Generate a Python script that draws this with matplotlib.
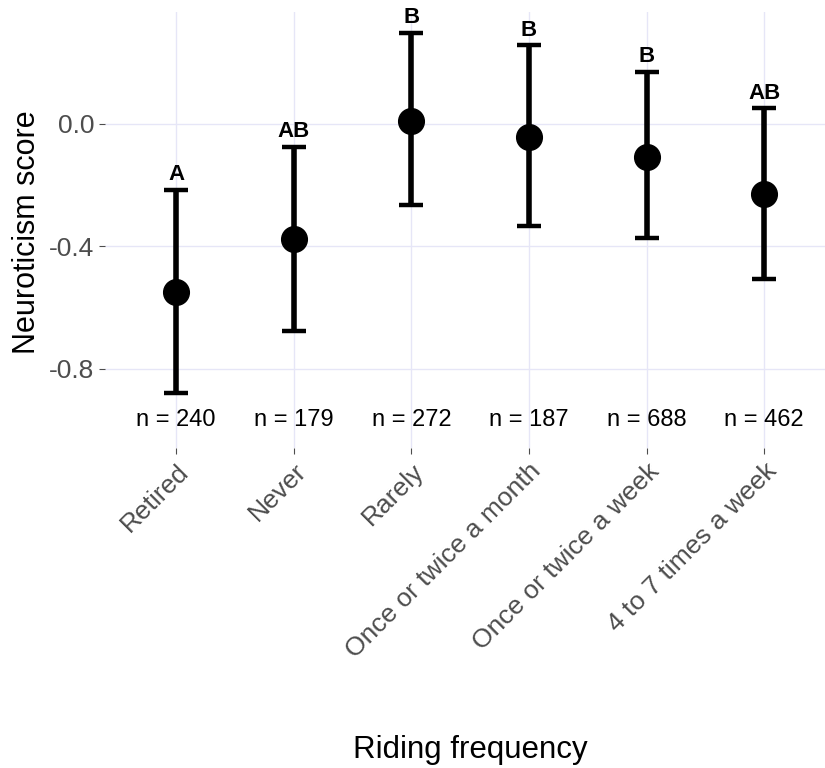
import numpy as np
import matplotlib
matplotlib.use('Agg')
import matplotlib.pyplot as plt
import matplotlib.transforms as mtransforms

plt.rcParams['font.family'] = ['Liberation Sans', 'DejaVu Sans']

# data
groups = ['Retired', 'Never', 'Rarely', 'Once or twice a month',
          'Once or twice a week', '4 to 7 times a week']
means = [-0.549, -0.376, 0.009, -0.042, -0.108, -0.230]
upper = [-0.216, -0.075, 0.298, 0.256, 0.169, 0.051]
lower = [-0.878, -0.675, -0.264, -0.335, -0.374, -0.505]
letters = ['A', 'AB', 'B', 'B', 'B', 'AB']
counts = [240, 179, 272, 187, 688, 462]

x = np.arange(1, len(groups) + 1)
means = np.array(means)
upper = np.array(upper)
lower = np.array(lower)

fig = plt.figure(figsize=(8.25, 7.68), dpi=100)
ax = fig.add_axes([0.1278, 0.4167, 1.012 - 0.1278, 0.984 - 0.4167])

grid_col = '#E6E6F7'
for yv in [0.0, -0.4, -0.8]:
    ax.axhline(yv, color=grid_col, lw=1.0, zorder=0)
for xv in x:
    ax.axvline(xv, color=grid_col, lw=1.0, zorder=0)

ax.errorbar(x, means, yerr=[means - lower, upper - means], fmt='o',
            color='black', ecolor='black', elinewidth=4, capsize=8.5,
            capthick=3.2, markersize=18.5, zorder=3)

for xi, u, lab in zip(x, upper, letters):
    ax.text(xi, u + 0.015, lab, ha='center', va='bottom', fontsize=16,
            fontweight='bold', color='black', zorder=4)

for xi, n in zip(x, counts):
    ax.text(xi, -0.967, f'n = {n}', ha='center', va='center', fontsize=17,
            color='black', zorder=4)

ax.set_xlim(0.4, 6.6)
ax.set_ylim(-1.058, 0.364)
ax.set_yticks([0.0, -0.4, -0.8])
ax.set_yticklabels(['0.0', '-0.4', '-0.8'])
ax.set_xticks(x)
ax.set_xticklabels(groups, rotation=45, ha='right', va='top',
                   rotation_mode='anchor')
offset = mtransforms.ScaledTranslation(12 / 100, 2 / 100, fig.dpi_scale_trans)
for lbl in ax.get_xticklabels():
    lbl.set_transform(lbl.get_transform() + offset)

ax.tick_params(axis='both', colors='#4D4D4D', labelsize=19, length=4,
               width=0.8, pad=4)
for s in ax.spines.values():
    s.set_visible(False)

ax.set_ylabel('Neuroticism score', fontsize=22, color='black',
              va='center', ha='center')
ax.yaxis.set_label_coords(-0.107, 0.495)
ax.set_xlabel('Riding frequency', fontsize=22.5, color='black',
              va='center', ha='center')
ax.xaxis.set_label_coords(0.5, -0.693)

fig.savefig('out.png', dpi=100)
